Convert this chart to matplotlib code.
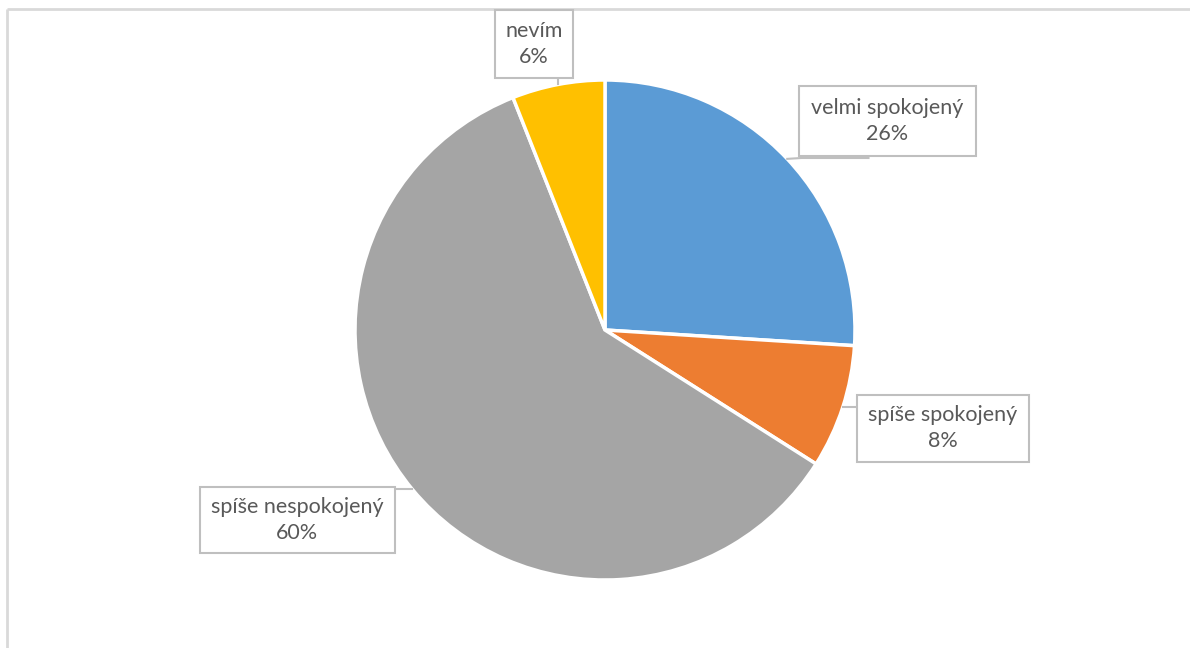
import matplotlib
matplotlib.use("Agg")
import matplotlib.pyplot as plt
import numpy as np

labels = ["velmi spokojený", "spíše spokojený", "spíše nespokojený", "nevím"]
shares = [26, 8, 60, 6]
colors = ["#5B9BD5", "#ED7D31", "#A5A5A5", "#FFC000"]

W, H = 1190, 648
CX, CY, R = 605, 330, 250

# label boxes (center x, center y, width, height) in pixel coords, y from top
boxes = {
    "velmi spokojený": (887, 121, 177, 70),
    "spíše spokojený": (943, 428, 172, 67),
    "spíše nespokojený": (297, 520, 195, 66),
    "nevím": (534, 44, 78, 68),
}

fig = plt.figure(figsize=(W / 100, H / 100), dpi=100)
ax = fig.add_axes([0, 0, 1, 1])
ax.set_xlim(0, W)
ax.set_ylim(0, H)
ax.axis("off")

# chart area frame (top and left edge visible)
ax.plot([7, W + 5], [H - 9, H - 9], color="#D9D9D9", lw=2, solid_capstyle="butt")
ax.plot([7, 7], [H - 9, -5], color="#D9D9D9", lw=2, solid_capstyle="butt")

wedges, _ = ax.pie(shares, colors=colors, startangle=90, counterclock=False,
                   center=(CX, H - CY), radius=R,
                   wedgeprops=dict(edgecolor="white", linewidth=2.5))
ax.set_xlim(0, W)
ax.set_ylim(0, H)
ax.set_aspect("equal")

for w, lab, val in zip(wedges, labels, shares):
    mid = np.deg2rad((w.theta1 + w.theta2) / 2)
    px = CX + R * np.cos(mid)
    py = (H - CY) + R * np.sin(mid)
    bx, by, bw, bh = boxes[lab]
    by = H - by
    # leader from wedge edge to nearest box point
    tx = min(max(px, bx - bw / 2), bx + bw / 2)
    ty = min(max(py, by - bh / 2), by + bh / 2)
    if lab == "velmi spokojený":
        ax.plot([px, bx - bw / 2 + 3, bx - bw / 2 + 70], [py, by - bh / 2 - 2, by - bh / 2 - 2],
                color="#BFBFBF", lw=1.5)
    else:
        ax.plot([px, tx], [py, ty], color="#BFBFBF", lw=1.5)
    ax.add_patch(plt.Rectangle((bx - bw / 2, by - bh / 2), bw, bh, fc="white",
                               ec="#BFBFBF", lw=1.5, zorder=3))
    ax.text(bx, by, f"{lab}\n{val}%", ha="center", va="center", fontsize=15.5,
            color="#595959", family=["Lato", "DejaVu Sans"], linespacing=1.4, zorder=4)

fig.savefig("out.png", dpi=100)
